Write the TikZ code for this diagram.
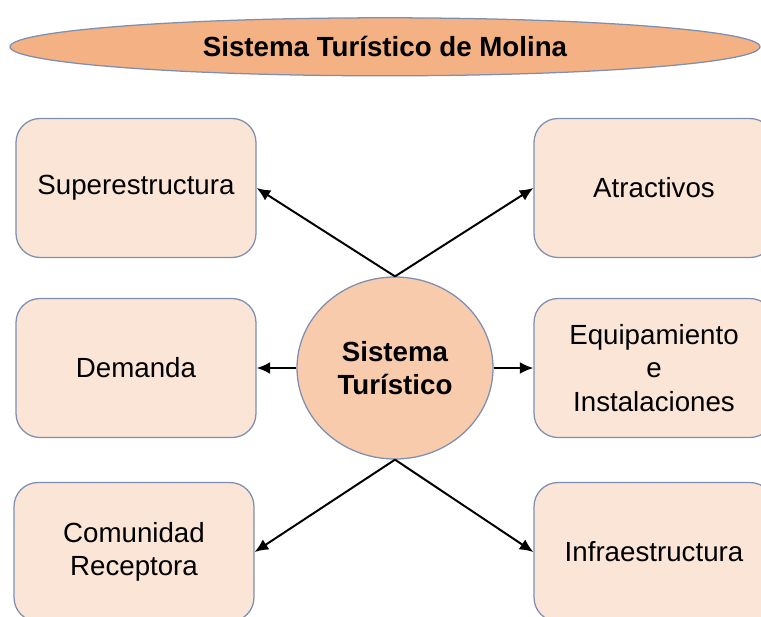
\documentclass[tikz,border=0pt]{standalone}
\usepackage{fontspec}
\setmainfont{Liberation Sans}
\usetikzlibrary{arrows.meta,shapes.geometric}

\definecolor{titulo}{HTML}{F4B183}
\definecolor{centro}{HTML}{F8CBAD}
\definecolor{caja}{HTML}{FBE5D6}
\definecolor{borde}{HTML}{7D90B2}

\tikzset{
	elem/.style={draw=borde, line width=0.9pt, fill=caja, rounded corners=0.6cm,
		minimum width=6cm, minimum height=3.475cm, align=center,
		font=\fontsize{19.7}{23.8}\selectfont},
	flecha/.style={line width=1.4pt, -{Latex[length=0.34cm, width=0.3cm]}}
}

\begin{document}
\begin{tikzpicture}
		\useasboundingbox (0, 0) rectangle (19.025, -15.4);
		%titulo
		\node[ellipse, draw=borde, line width=0.9pt, fill=titulo, minimum width=18.75cm, minimum height=1.45cm,
			font=\fontsize{19.7}{23.8}\selectfont\bfseries] (titulo) at (9.625, -1.17) {Sistema Turístico de Molina};
		%centro
		\node[ellipse, draw=borde, line width=0.9pt, fill=centro, minimum width=4.9cm, minimum height=4.55cm,
			align=center, font=\fontsize{19.7}{23.8}\selectfont\bfseries] (sistema) at (9.875, -9.2) {Sistema\\Turístico};
		%elementos
		\node[elem] (superestructura) at (3.4, -4.7) {Superestructura};
		\node[elem] (demanda) at (3.4, -9.2) {Demanda};
		\node[elem] (comunidad) at (3.35, -13.8) {Comunidad\\Receptora};
		\node[elem] (atractivos) at (16.35, -4.7) {Atractivos};
		\node[elem] (equipamiento) at (16.35, -9.2) {Equipamiento\\e\\Instalaciones};
		\node[elem] (infraestructura) at (16.35, -13.8) {Infraestructura};
		%flechas
		\draw[flecha] (sistema.north) -- (superestructura.east);
		\draw[flecha] (sistema.north) -- (atractivos.west);
		\draw[flecha] (sistema.west) -- (demanda.east);
		\draw[flecha] (sistema.east) -- (equipamiento.west);
		\draw[flecha] (sistema.south) -- (comunidad.east);
		\draw[flecha] (sistema.south) -- (infraestructura.west);
	\end{tikzpicture}
\end{document}
